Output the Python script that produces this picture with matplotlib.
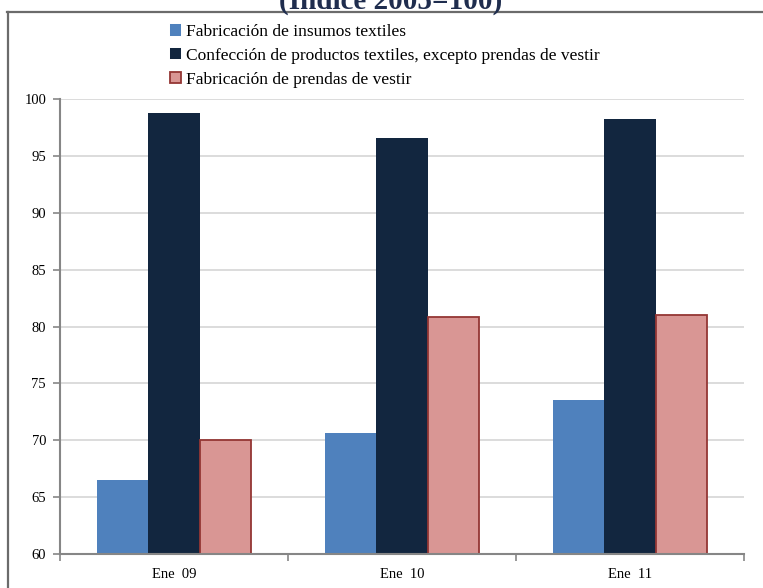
import matplotlib
matplotlib.use("Agg")
import matplotlib.pyplot as plt
import numpy as np
from matplotlib.patches import Patch
from matplotlib.lines import Line2D

categories = ["Ene  09", "Ene  10", "Ene  11"]
series_names = [
    "Fabricación de insumos textiles",
    "Confección de productos textiles, excepto prendas de vestir",
    "Fabricación de prendas de vestir",
]
insumos = [66.5, 70.6, 73.5]
confeccion = [98.8, 96.6, 98.2]
prendas = [70.0, 80.8, 81.0]
yticks = [60, 65, 70, 75, 80, 85, 90, 95, 100]
title = "(Índice 2005=100)"

W, H = 763, 588
fig = plt.figure(figsize=(W / 100, H / 100), dpi=100)
plt.rcParams['font.family'] = ['Liberation Serif', 'DejaVu Serif']

ax = fig.add_axes([60 / W, 1 - 554 / H, (744 - 60) / W, (554 - 99) / H])

x = np.arange(len(categories))
bw = 0.224
fills = ["#4f81bd", "#12263f", "#d99694"]
edges = ["#4f81bd", "#12263f", "#943634"]
lws = [0, 0, 1.3]
data = [insumos, confeccion, prendas]
handles = []
for i, (vals, fc, ec, lw) in enumerate(zip(data, fills, edges, lws)):
    ax.bar(x + (i - 1) * bw, [v - 60 for v in vals], bottom=60, width=bw,
           color=fc, edgecolor=ec, linewidth=lw, zorder=3)
    handles.append(Patch(facecolor=fc, edgecolor=ec, linewidth=max(lw, 0.01)))

ax.set_ylim(60, 100)
ax.set_xlim(-0.5, len(categories) - 0.5)
ax.set_yticks(yticks)
ax.set_yticklabels([str(v) for v in yticks], fontsize=10.5)
ax.set_xticks(x)
ax.set_xticklabels(categories, fontsize=10.5)
ax.set_xticks(np.arange(-0.5, len(categories)), minor=True)
ax.tick_params(axis='x', which='major', length=0, pad=10)
ax.tick_params(axis='x', which='minor', length=5, width=1.2, color="#868686", direction='out')
ax.tick_params(axis='y', length=5, width=1.2, color="#868686", direction='out', pad=5)
ax.yaxis.grid(True, color="#d9d9d9", linewidth=1.3, zorder=0)
ax.set_axisbelow(True)
for s in ["top", "right"]:
    ax.spines[s].set_visible(False)
for s in ["left", "bottom"]:
    ax.spines[s].set_color("#868686")
    ax.spines[s].set_linewidth(1.5)
    ax.spines[s].set_zorder(4)

leg = fig.legend(handles, series_names, loc="upper left",
                 bbox_to_anchor=(163 / W, 1 - 17 / H), frameon=False,
                 fontsize=12.5, handlelength=0.65, handleheight=0.65,
                 handletextpad=0.25, labelspacing=0.45, borderaxespad=0)

# frame lines
fig.add_artist(Line2D([7 / W, 1.0], [1 - 11.5 / H, 1 - 11.5 / H], color="#6b6b6b", linewidth=1.6))
fig.add_artist(Line2D([7.5 / W, 7.5 / W], [0, 1 - 11.5 / H], color="#6b6b6b", linewidth=1.6))

fig.text(391 / W, 1 - 8.5 / H, title, ha="center", va="baseline", fontsize=21,
         fontweight="bold", color="#1f2d4e")

fig.savefig("out.png", dpi=100)
